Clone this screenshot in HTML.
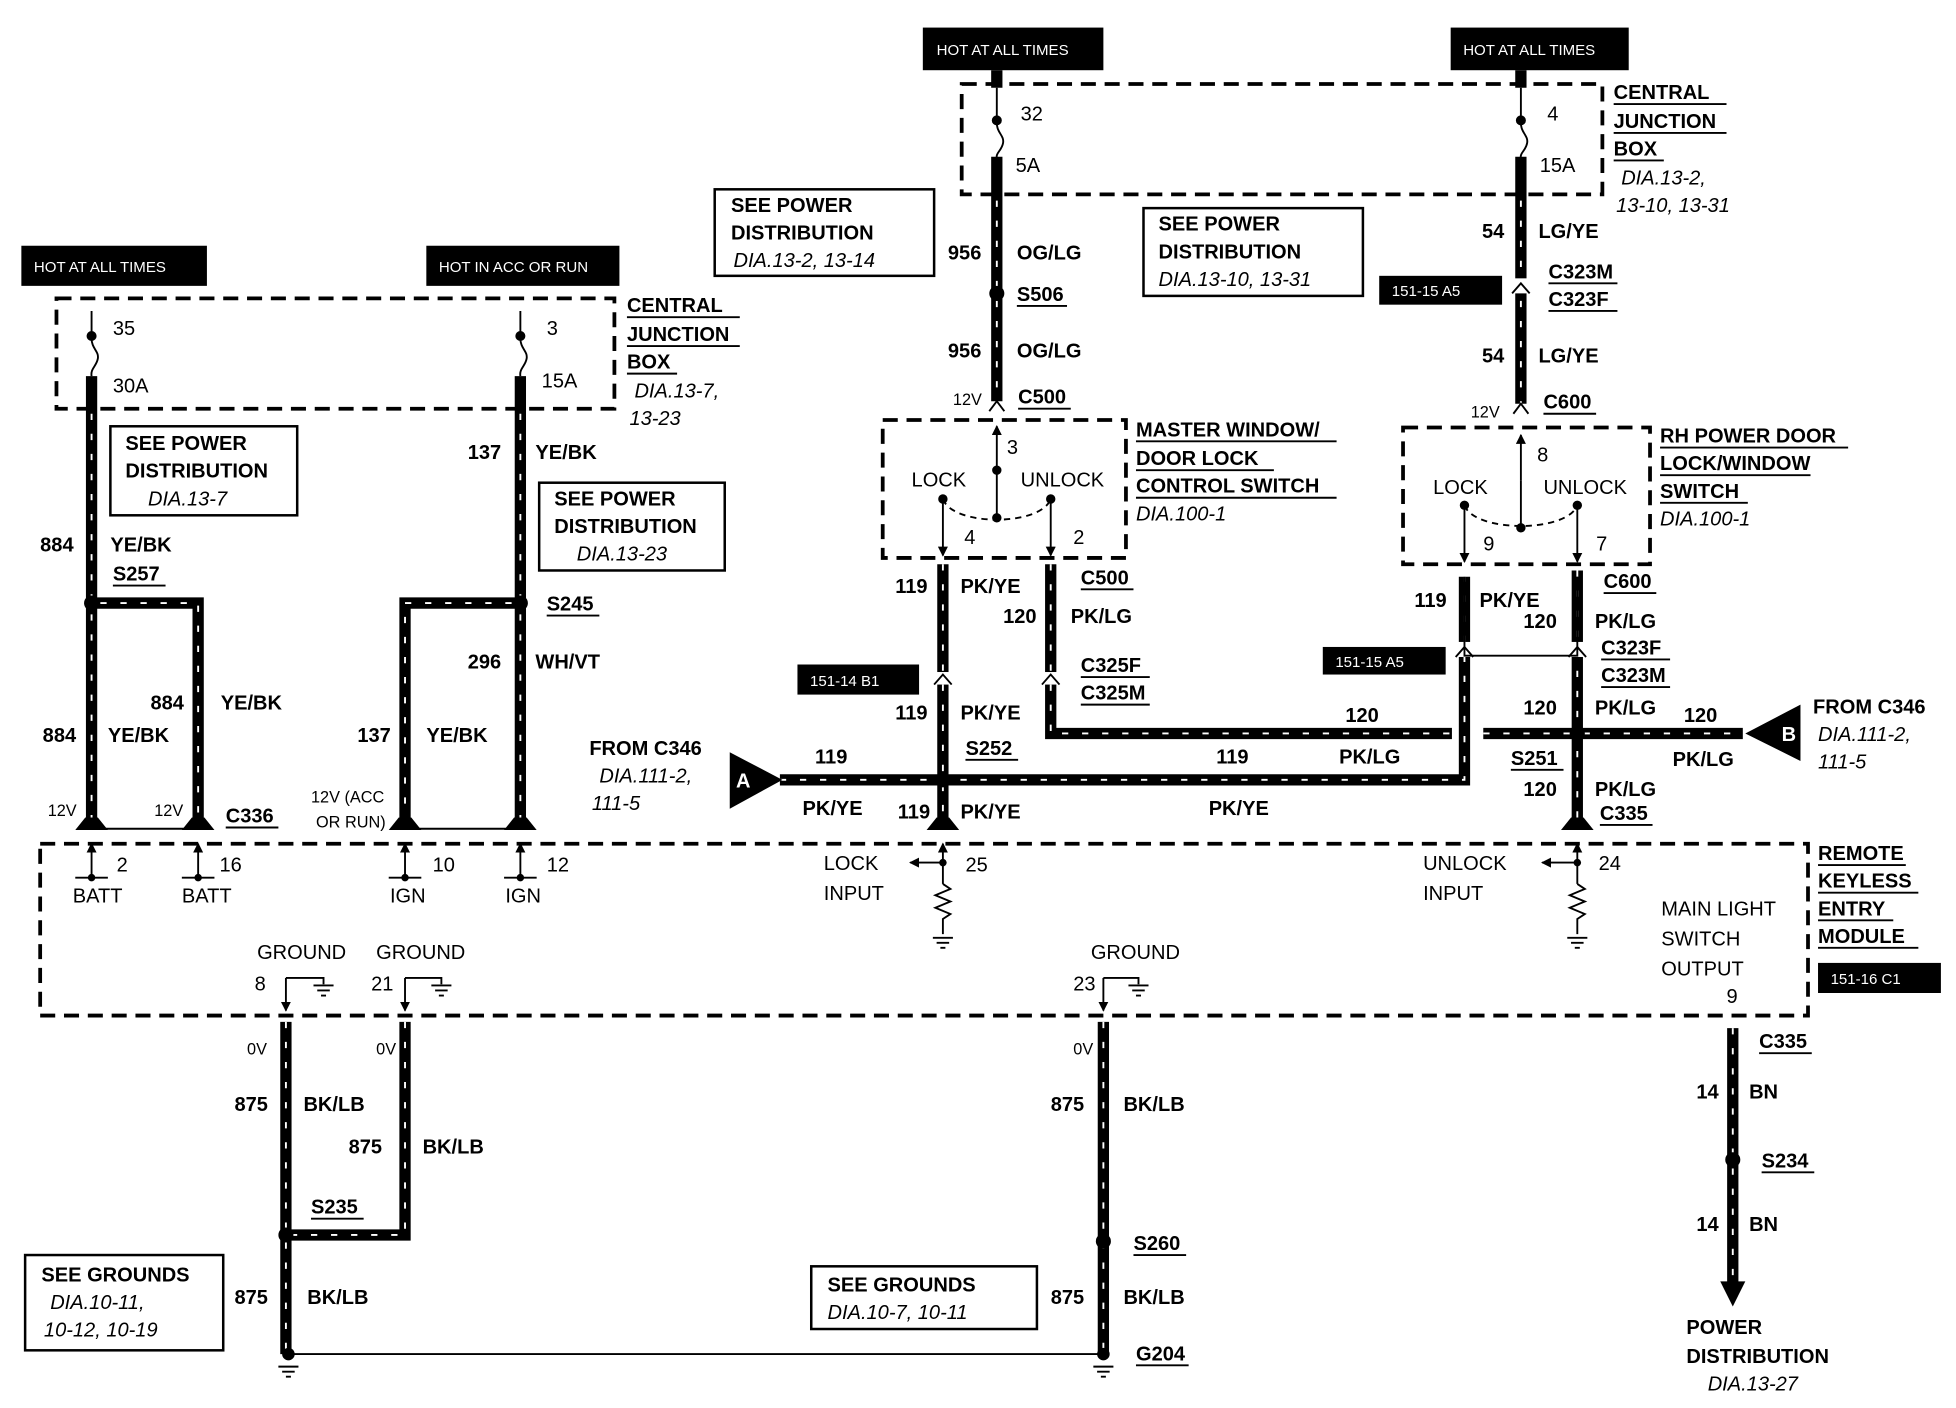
<!DOCTYPE html>
<html><head><meta charset="utf-8"><style>
html,body{margin:0;padding:0;background:#fff;}
svg{display:block}
text{font-family:"Liberation Sans",Arial,sans-serif;font-size:16px;fill:#000;}
.b{font-weight:bold;}
.i{font-style:italic;}
.s{font-size:13px;}
.w{stroke:#000;stroke-width:9;fill:none;}
.d{stroke:#fff;stroke-width:1.5;fill:none;stroke-dasharray:5 11;}
.t{stroke:#000;stroke-width:1.5;fill:none;}
.bx{stroke:#000;stroke-width:2;fill:#fff;}
.dash{stroke:#000;stroke-width:3;fill:none;stroke-dasharray:12 7;}
.lbl{fill:#fff;font-size:12px;}
</style></head><body>
<svg width="1956" height="1408" viewBox="0 0 1560 1123" xmlns="http://www.w3.org/2000/svg">
<defs>
<marker id="ar" markerWidth="8" markerHeight="8" refX="7" refY="4" orient="auto" markerUnits="userSpaceOnUse"><path d="M0,0 L8,4 L0,8 z" fill="#000"/></marker>
</defs>
<rect width="1560" height="1123" fill="#fff"/>

<rect x="17" y="196" width="148" height="32" fill="#000"/><text x="27" y="217" class="lbl">HOT AT ALL TIMES</text>
<rect x="340" y="196" width="154" height="32" fill="#000"/><text x="350" y="217" class="lbl">HOT IN ACC OR RUN</text>
<rect x="736" y="22" width="144" height="34" fill="#000"/><text x="747" y="44" class="lbl">HOT AT ALL TIMES</text>
<rect x="1157" y="22" width="142" height="34" fill="#000"/><text x="1167" y="44" class="lbl">HOT AT ALL TIMES</text>
<rect x="1100" y="220" width="98" height="23" fill="#000"/><text x="1110" y="236" class="lbl">151-15 A5</text>
<rect x="1055" y="516" width="98" height="22" fill="#000"/><text x="1065" y="532" class="lbl">151-15 A5</text>
<rect x="636" y="530" width="97" height="24" fill="#000"/><text x="646" y="547" class="lbl">151-14 B1</text>
<rect x="1450" y="768" width="98" height="24" fill="#000"/><text x="1460" y="785" class="lbl">151-16 C1</text>

<rect x="45" y="238" width="445" height="88" class="dash"/>
<rect x="767" y="67" width="511" height="88" class="dash"/>
<rect x="704" y="335" width="194" height="110" class="dash"/>
<rect x="1119" y="341" width="197" height="109" class="dash"/>
<rect x="32" y="673" width="1410" height="137" class="dash"/>

<g>
<path class="w" d="M73,300V656 M415,300V656 M73,481H158V656 M415,481H323V656"/>
<path class="w" d="M795,56V70 M1213,56V70 M795,125V320 M1213,125V322"/>
<path class="w" d="M752,450V656 M838,450V585H1158 M1183,585H1390 M622,622H1168V460 M1258,455V656"/>
<path class="w" d="M228,815V1080 M323,815V985H228 M880,815V1080 M1382,820V1030"/>
</g>
<g>
<path class="d" d="M73,330V656 M415,330V656 M80,481H158V656 M408,481H323V656"/>
<path class="d" d="M795,160V320 M1213,160V322"/>
<path class="d" d="M752,450V656 M838,450V585H1158 M1183,585H1390 M622,622H1168V460 M1258,455V656"/>
<path class="d" d="M228,815V1080 M323,815V985H228 M880,815V1080 M1382,820V1030"/>
</g>
<!-- wire feet -->
<g fill="#000">
<path d="M68,652h10l8,10h-26z"/><path d="M153,652h10l8,10h-26z"/><path d="M318,652h10l8,10h-26z"/><path d="M410,652h10l8,10h-26z"/>
<path d="M747,652h10l8,10h-26z"/><path d="M1253,652h10l8,10h-26z"/>
</g>
<path class="t" d="M78,661H153 M328,661H410"/>
<!-- fuses -->
<path class="t" stroke-width="2" d="M73,248V270 M73,270c0,8 6,10 5,16c-1,6 -6,8 -5,14 M415,248V270 M415,270c0,8 6,10 5,16c-1,6 -6,8 -5,14 M795,70V98 M795,98c0,8 6,10 5,16c-1,6 -6,8 -5,12 M1213,70V98 M1213,98c0,8 6,10 5,16c-1,6 -6,8 -5,12"/>
<g fill="#000"><circle cx="73" cy="268" r="4"/><circle cx="415" cy="268" r="4"/><circle cx="795" cy="96" r="4"/><circle cx="1213" cy="96" r="4"/></g>
<polygon points="1372,1022 1392,1022 1382,1042" fill="#000"/>

<g fill="#fff"><rect x="745" y="536" width="14" height="10"/><rect x="831" y="536" width="14" height="10"/><rect x="1161" y="512" width="14" height="12"/><rect x="1251" y="512" width="14" height="12"/><rect x="1206" y="222" width="14" height="12"/></g>
<path class="t" stroke-width="2.5" d="M745,546l7,-8l7,8 M831,546l7,-8l7,8 M1161,524l7,-8l7,8 M1251,524l7,-8l7,8 M1206,234l7,-8l7,8 M789,328l6,-8l6,8 M1207,330l6,-8l6,8"/>
<path class="t" d="M1168,460V523H1258V460"/>

<g fill="#000"><circle cx="73" cy="481" r="6"/><circle cx="415" cy="481" r="6"/><circle cx="795" cy="234" r="6"/><circle cx="752" cy="622" r="6"/><circle cx="1258" cy="585" r="6"/><circle cx="228" cy="985" r="6"/><circle cx="880" cy="990" r="6"/><circle cx="1382" cy="925" r="6"/><circle cx="230" cy="1080" r="5"/><circle cx="880" cy="1080" r="5"/></g>
<path class="t" d="M230,1080H880"/>
<path class="t" d="M222,1090h16 M225,1094h10 M228,1098h4 M872,1090h16 M875,1094h10 M878,1098h4"/>

<g class="t">
<path d="M795,375V340" marker-end="url(#ar)"/><path d="M795,375V413"/><circle cx="795" cy="375" r="3" fill="#000"/><circle cx="795" cy="413" r="3" fill="#000"/>
<path d="M752,398C760,420 830,420 838,398" stroke-dasharray="5 4"/>
<circle cx="752" cy="398" r="3" fill="#000"/><circle cx="838" cy="398" r="3" fill="#000"/>
<path d="M752,398V443" marker-end="url(#ar)"/><path d="M838,398V443" marker-end="url(#ar)"/>
<path d="M1213,383V347" marker-end="url(#ar)"/><path d="M1213,383V421"/><circle cx="1213" cy="421" r="3" fill="#000"/>
<path d="M1168,403C1176,425 1250,425 1258,403" stroke-dasharray="5 4"/>
<circle cx="1168" cy="403" r="3" fill="#000"/><circle cx="1258" cy="403" r="3" fill="#000"/>
<path d="M1168,403V448" marker-end="url(#ar)"/><path d="M1258,403V448" marker-end="url(#ar)"/>
</g>

<g class="t" stroke-width="2">
<path d="M73,700V673" marker-end="url(#ar)"/><path d="M60,700h26"/>
<path d="M158,700V673" marker-end="url(#ar)"/><path d="M145,700h26"/>
<path d="M323,700V673" marker-end="url(#ar)"/><path d="M310,700h26"/>
<path d="M415,700V673" marker-end="url(#ar)"/><path d="M402,700h26"/>
<path d="M752,705V673" marker-end="url(#ar)"/><path d="M752,688H726" marker-end="url(#ar)"/>
<path d="M752,705l6,4l-12,5l12,5l-12,5l12,5l-6,4V745"/><path d="M744,748h16 M747,752h10 M750,756h4"/>
<path d="M1258,705V673" marker-end="url(#ar)"/><path d="M1258,688H1230" marker-end="url(#ar)"/>
<path d="M1258,705l6,4l-12,5l12,5l-12,5l12,5l-6,4V745"/><path d="M1250,748h16 M1253,752h10 M1256,756h4"/>
<path d="M228,780V806" marker-end="url(#ar)"/><path d="M228,780H258V785"/><path d="M250,786h16 M253,790h10 M256,794h4"/>
<path d="M323,780V806" marker-end="url(#ar)"/><path d="M323,780H352V785"/><path d="M344,786h16 M347,790h10 M350,794h4"/>
<path d="M880,780V806" marker-end="url(#ar)"/><path d="M880,780H908V785"/><path d="M900,786h16 M903,790h10 M906,794h4"/>
</g>
<g fill="#000"><circle cx="73" cy="700" r="3"/><circle cx="158" cy="700" r="3"/><circle cx="323" cy="700" r="3"/><circle cx="415" cy="700" r="3"/><circle cx="752" cy="688" r="3"/><circle cx="1258" cy="688" r="3"/></g>
<polygon points="582,600 582,645 624,622" fill="#000"/><text x="587" y="628" class="b" style="fill:#fff">A</text>
<polygon points="1436,562 1436,607 1392,585" fill="#000"/><text x="1421" y="591" class="b" style="fill:#fff">B</text>

<rect x="88" y="340" width="149" height="71" class="bx"/>
<text x="100" y="359" class="b">SEE POWER</text><text x="100" y="381" class="b">DISTRIBUTION</text><text x="118" y="403" class="i">DIA.13-7</text>
<rect x="430" y="385" width="148" height="70" class="bx"/>
<text x="442" y="403" class="b">SEE POWER</text><text x="442" y="425" class="b">DISTRIBUTION</text><text x="460" y="447" class="i">DIA.13-23</text>
<rect x="570" y="151" width="175" height="69" class="bx"/>
<text x="583" y="169" class="b">SEE POWER</text><text x="583" y="191" class="b">DISTRIBUTION</text><text x="585" y="213" class="i">DIA.13-2, 13-14</text>
<rect x="912" y="166" width="175" height="70" class="bx"/>
<text x="924" y="184" class="b">SEE POWER</text><text x="924" y="206" class="b">DISTRIBUTION</text><text x="924" y="228" class="i">DIA.13-10, 13-31</text>
<rect x="20" y="1001" width="158" height="76" class="bx"/>
<text x="33" y="1022" class="b">SEE GROUNDS</text><text x="40" y="1044" class="i">DIA.10-11,</text><text x="35" y="1066" class="i">10-12, 10-19</text>
<rect x="647" y="1010" width="180" height="50" class="bx"/>
<text x="660" y="1030" class="b">SEE GROUNDS</text><text x="660" y="1052" class="i">DIA.10-7, 10-11</text>

<g>
<text x="90" y="267">35</text><text x="90" y="313">30A</text>
<text x="436" y="267">3</text><text x="432" y="309">15A</text>
<text x="814" y="96">32</text><text x="810" y="137">5A</text>
<text x="1234" y="96">4</text><text x="1228" y="137">15A</text>
<text x="500" y="249" class="b">CENTRAL</text><text x="500" y="272" class="b">JUNCTION</text><text x="500" y="294" class="b">BOX</text>
<text x="506" y="317" class="i">DIA.13-7,</text><text x="502" y="339" class="i">13-23</text>
<text x="1287" y="79" class="b">CENTRAL</text><text x="1287" y="102" class="b">JUNCTION</text><text x="1287" y="124" class="b">BOX</text>
<text x="1293" y="147" class="i">DIA.13-2,</text><text x="1289" y="169" class="i">13-10, 13-31</text>
<text x="32" y="440" class="b">884</text><text x="88" y="440" class="b">YE/BK</text>
<text x="90" y="463" class="b">S257</text>
<text x="34" y="592" class="b">884</text><text x="86" y="592" class="b">YE/BK</text>
<text x="120" y="566" class="b">884</text><text x="176" y="566" class="b">YE/BK</text>
<text x="38" y="651" class="s">12V</text><text x="123" y="651" class="s">12V</text><text x="180" y="656" class="b">C336</text>
<text x="373" y="366" class="b">137</text><text x="427" y="366" class="b">YE/BK</text>
<text x="436" y="487" class="b">S245</text>
<text x="373" y="533" class="b">296</text><text x="427" y="533" class="b">WH/VT</text>
<text x="285" y="592" class="b">137</text><text x="340" y="592" class="b">YE/BK</text>
<text x="248" y="640" class="s">12V (ACC</text><text x="252" y="660" class="s">OR RUN)</text>
<text x="93" y="695">2</text><text x="175" y="695">16</text><text x="345" y="695">10</text><text x="436" y="695">12</text>
<text x="58" y="720">BATT</text><text x="145" y="720">BATT</text><text x="311" y="720">IGN</text><text x="403" y="720">IGN</text>
<text x="756" y="207" class="b">956</text><text x="811" y="207" class="b">OG/LG</text>
<text x="811" y="240" class="b">S506</text>
<text x="756" y="285" class="b">956</text><text x="811" y="285" class="b">OG/LG</text>
<text x="760" y="323" class="s">12V</text><text x="812" y="322" class="b">C500</text>
<text x="803" y="362">3</text><text x="727" y="388">LOCK</text><text x="814" y="388">UNLOCK</text>
<text x="769" y="434">4</text><text x="856" y="434">2</text>
<text x="906" y="348" class="b">MASTER WINDOW/</text><text x="906" y="371" class="b">DOOR LOCK</text><text x="906" y="393" class="b">CONTROL SWITCH</text><text x="906" y="415" class="i">DIA.100-1</text>
<text x="1182" y="190" class="b">54</text><text x="1227" y="190" class="b">LG/YE</text>
<text x="1235" y="222" class="b">C323M</text><text x="1235" y="244" class="b">C323F</text>
<text x="1182" y="289" class="b">54</text><text x="1227" y="289" class="b">LG/YE</text>
<text x="1173" y="333" class="s">12V</text><text x="1231" y="326" class="b">C600</text>
<text x="1226" y="368">8</text><text x="1143" y="394">LOCK</text><text x="1231" y="394">UNLOCK</text>
<text x="1183" y="439">9</text><text x="1273" y="439">7</text>
<text x="1324" y="353" class="b">RH POWER DOOR</text><text x="1324" y="375" class="b">LOCK/WINDOW</text><text x="1324" y="397" class="b">SWITCH</text><text x="1324" y="419" class="i">DIA.100-1</text>
<text x="714" y="473" class="b">119</text><text x="766" y="473" class="b">PK/YE</text>
<text x="862" y="466" class="b">C500</text>
<text x="800" y="497" class="b">120</text><text x="854" y="497" class="b">PK/LG</text>
<text x="862" y="536" class="b">C325F</text><text x="862" y="558" class="b">C325M</text>
<text x="714" y="574" class="b">119</text><text x="766" y="574" class="b">PK/YE</text>
<text x="770" y="602" class="b">S252</text>
<text x="470" y="602" class="b">FROM C346</text><text x="478" y="624" class="i">DIA.111-2,</text><text x="472" y="646" class="i">111-5</text>
<text x="650" y="609" class="b">119</text><text x="640" y="650" class="b">PK/YE</text>
<text x="716" y="653" class="b">119</text><text x="766" y="653" class="b">PK/YE</text>
<text x="970" y="609" class="b">119</text><text x="1068" y="609" class="b">PK/LG</text><text x="964" y="650" class="b">PK/YE</text>
<text x="1073" y="576" class="b">120</text>
<text x="1128" y="484" class="b">119</text><text x="1180" y="484" class="b">PK/YE</text>
<text x="1279" y="469" class="b">C600</text>
<text x="1215" y="501" class="b">120</text><text x="1272" y="501" class="b">PK/LG</text>
<text x="1277" y="522" class="b">C323F</text><text x="1277" y="544" class="b">C323M</text>
<text x="1215" y="570" class="b">120</text><text x="1272" y="570" class="b">PK/LG</text>
<text x="1343" y="576" class="b">120</text><text x="1334" y="611" class="b">PK/LG</text>
<text x="1205" y="610" class="b">S251</text>
<text x="1215" y="635" class="b">120</text><text x="1272" y="635" class="b">PK/LG</text><text x="1276" y="654" class="b">C335</text>
<text x="1446" y="569" class="b">FROM C346</text><text x="1450" y="591" class="i">DIA.111-2,</text><text x="1450" y="613" class="i">111-5</text>
<text x="657" y="694">LOCK</text><text x="657" y="718">INPUT</text><text x="770" y="695">25</text>
<text x="1135" y="694">UNLOCK</text><text x="1135" y="718">INPUT</text><text x="1275" y="694">24</text>
<text x="205" y="765">GROUND</text><text x="300" y="765">GROUND</text><text x="870" y="765">GROUND</text>
<text x="203" y="790">8</text><text x="296" y="790">21</text><text x="856" y="790">23</text>
<text x="1325" y="730">MAIN LIGHT</text><text x="1325" y="754">SWITCH</text><text x="1325" y="778">OUTPUT</text><text x="1377" y="800">9</text>
<text x="1450" y="686" class="b">REMOTE</text><text x="1450" y="708" class="b">KEYLESS</text><text x="1450" y="730" class="b">ENTRY</text><text x="1450" y="752" class="b">MODULE</text>
<text x="197" y="841" class="s">0V</text><text x="300" y="841" class="s">0V</text><text x="856" y="841" class="s">0V</text>
<text x="187" y="886" class="b">875</text><text x="242" y="886" class="b">BK/LB</text>
<text x="278" y="920" class="b">875</text><text x="337" y="920" class="b">BK/LB</text>
<text x="248" y="968" class="b">S235</text>
<text x="187" y="1040" class="b">875</text><text x="245" y="1040" class="b">BK/LB</text>
<text x="838" y="886" class="b">875</text><text x="896" y="886" class="b">BK/LB</text>
<text x="904" y="997" class="b">S260</text>
<text x="838" y="1040" class="b">875</text><text x="896" y="1040" class="b">BK/LB</text>
<text x="906" y="1085" class="b">G204</text>
<text x="1403" y="836" class="b">C335</text>
<text x="1353" y="876" class="b">14</text><text x="1395" y="876" class="b">BN</text>
<text x="1405" y="931" class="b">S234</text>
<text x="1353" y="982" class="b">14</text><text x="1395" y="982" class="b">BN</text>
<text x="1345" y="1064" class="b">POWER</text><text x="1345" y="1087" class="b">DISTRIBUTION</text><text x="1362" y="1109" class="i">DIA.13-27</text>
</g>
<path class="t" d="M500,253h90 M500,276h90 M500,298h40 M1287,83h90 M1287,106h90 M1287,128h40 M90,467h42 M436,491h42 M811,244h40 M812,326h42 M1235,226h55 M1235,248h55 M1231,330h42 M906,352h160 M906,375h110 M906,397h160 M862,470h42 M862,540h55 M862,562h55 M1279,473h42 M1277,526h55 M1277,548h55 M1324,357h150 M1324,379h120 M1324,401h70 M770,606h42 M1205,614h42 M1276,658h42 M180,660h42 M1450,690h70 M1450,712h80 M1450,734h60 M1450,756h80 M248,972h42 M904,1001h42 M906,1089h42 M1403,840h42 M1405,935h42"/>
</svg>
</body></html>
